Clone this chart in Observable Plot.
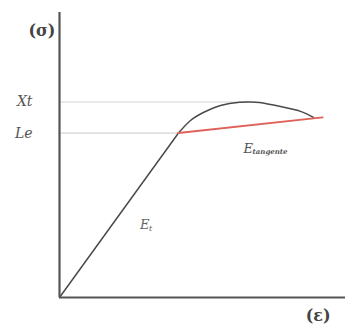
<!DOCTYPE html>
<html>
<head>
<meta charset="utf-8">
<script src="https://cdn.jsdelivr.net/npm/d3@7"></script>
<script src="https://cdn.jsdelivr.net/npm/@observablehq/plot@0.6"></script>
<style>
  html, body { margin: 0; padding: 0; background: #fff; }
</style>
</head>
<body>
<div id="chart"></div>
<script>
// Stress levels (σ): elastic limit and tensile strength
const stressLevels = [5.77, 6.86];
const stressLabels = ["Le", "Xt"];

// Linear elastic branch, origin to elastic limit (ε, σ)
const elasticStrain = [0, 4.16];
const elasticStress = [0, 5.77];

// Post-elastic curve up to the peak and beyond (ε, σ)
const plasticStrain = [4.16, 4.58, 5.03, 5.63, 6.3, 6.65, 7.0, 7.73, 8.43, 8.88];
const plasticStress = [5.77, 6.21, 6.49, 6.74, 6.85, 6.86, 6.84, 6.7, 6.53, 6.32];

// Tangent modulus line
const tangentStrain = [4.16, 9.2];
const tangentStress = [5.77, 6.32];

const elastic = elasticStrain.map((e, i) => ({e, s: elasticStress[i]}));
const plastic = plasticStrain.map((e, i) => ({e, s: plasticStress[i]}));
const tangent = tangentStrain.map((e, i) => ({e, s: tangentStress[i]}));
const peak = plastic.reduce((a, b) => (b.s > a.s ? b : a));

// Guide lines from the stress axis to the curve
const guides = [
  {s: stressLevels[0], e: elasticStrain[1]},
  {s: stressLevels[1], e: peak.e}
];

const serif = "'DejaVu Serif', serif";
const ink = "#4a4a4a";

const mid = (pts) => ({e: (pts[0].e + pts[1].e) / 2, s: (pts[0].s + pts[1].s) / 2});

const chart = Plot.plot({
  width: 345,
  height: 331,
  marginTop: 12,
  marginRight: 0,
  marginBottom: 34,
  marginLeft: 59,
  style: {fontFamily: serif, background: "#fff"},
  x: {domain: [0, 10], axis: null},
  y: {domain: [0, 10]},
  marks: [
    Plot.axisY({
      ticks: stressLevels,
      tickFormat: (d) => stressLabels[stressLevels.indexOf(d)],
      tickSize: 0,
      tickPadding: 27,
      label: null,
      fontSize: 14,
      fontFamily: serif,
      fontStyle: "italic",
      fill: "#555"
    }),
    Plot.ruleY(guides, {y: "s", x1: 0, x2: "e", stroke: "#d4d4d4", strokeWidth: 1.2}),
    Plot.line(elastic, {x: "e", y: "s", stroke: ink, strokeWidth: 1.5}),
    Plot.line(plastic, {x: "e", y: "s", stroke: ink, strokeWidth: 1.5, curve: "natural"}),
    Plot.line(tangent, {x: "e", y: "s", stroke: "#e0605a", strokeWidth: 2}),
    Plot.ruleX([0], {y1: 0, y2: 10, stroke: "#555", strokeWidth: 2.2}),
    Plot.ruleY([0], {x1: 0, x2: 10, stroke: "#555", strokeWidth: 2.2}),
    // Modulus labels
    Plot.text([mid(elastic)], {x: "e", y: "s", text: () => "E", dx: 21, dy: 10, textAnchor: "start", fontFamily: serif, fontSize: 13, fontStyle: "italic", fill: "#666"}),
    Plot.text([mid(elastic)], {x: "e", y: "s", text: () => "t", dx: 30, dy: 13, textAnchor: "start", fontFamily: serif, fontSize: 8, fontStyle: "italic", fill: "#666"}),
    Plot.text([mid(tangent)], {x: "e", y: "s", text: () => "E", dx: -7, dy: 24, textAnchor: "start", fontFamily: serif, fontSize: 13, fontStyle: "italic", fill: "#555"}),
    Plot.text([mid(tangent)], {x: "e", y: "s", text: () => "tangente", dx: 2, dy: 27, textAnchor: "start", fontFamily: serif, fontSize: 7, fontStyle: "italic", fontWeight: "bold", fill: "#555"}),
    // Axis titles
    Plot.text(["(σ)"], {frameAnchor: "top-left", dx: -31, dy: 12, fontFamily: serif, fontSize: 16, fontWeight: "bold", fill: "#444"}),
    Plot.text(["(ε)"], {frameAnchor: "bottom-right", dx: -15, dy: 23, fontFamily: serif, fontSize: 16, fontWeight: "bold", fill: "#444"})
  ]
});

document.getElementById("chart").appendChild(chart);
</script>
</body>
</html>
